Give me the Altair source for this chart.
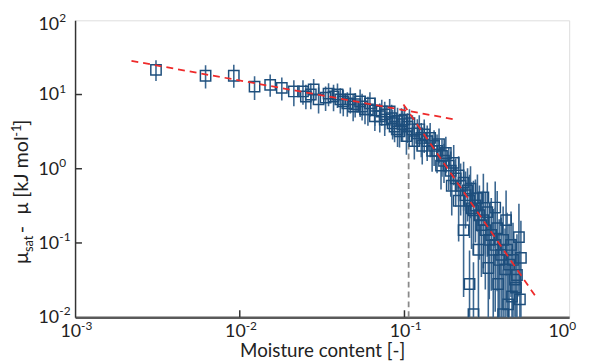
import altair as alt
import pandas as pd
import numpy as np

# measured points: moisture content, mu_sat - mu, lower/upper error (decades)
x_vals = [
    0.0031, 0.0062, 0.0092, 0.0123, 0.0153, 0.018, 0.0213,
    0.0242, 0.0252, 0.0270, 0.0281, 0.0301, 0.0332, 0.0346, 0.0371, 0.0392, 0.0408,
    0.0425, 0.0450, 0.0469, 0.0488, 0.0502, 0.0538, 0.0553, 0.0576, 0.0600, 0.0617,
    0.0661, 0.0661, 0.0708, 0.0728, 0.0759, 0.0759, 0.0813, 0.0836, 0.0847, 0.0871,
    0.0908, 0.0908, 0.0933, 0.0960, 0.0973, 0.1000, 0.1028, 0.1043, 0.1072, 0.1117,
    0.1148, 0.1197, 0.1230, 0.1265, 0.1282,
    0.1318, 0.1374, 0.1432, 0.1472, 0.1513, 0.1577, 0.1621, 0.1667, 0.1690, 0.1738,
    0.1783, 0.1858, 0.1910, 0.1937, 0.1991, 0.2047, 0.2133, 0.2133, 0.2193, 0.2286,
    0.2286, 0.2350, 0.2416, 0.2484, 0.2484, 0.2518, 0.2553, 0.2624, 0.2624, 0.2698,
    0.2773, 0.2812, 0.2851, 0.2931, 0.3013, 0.3013, 0.3097, 0.3184, 0.3228, 0.3273,
    0.3365, 0.3459, 0.3556, 0.3556, 0.3656, 0.3707, 0.3758, 0.3864, 0.3972, 0.3972,
    0.4083, 0.4140, 0.4198, 0.4256, 0.4315, 0.4436, 0.4498, 0.4560, 0.4688, 0.4753,
    0.4819, 0.4954, 0.5023, 0.5093,
]
y_vals = [
    21.5, 17.9, 17.9, 12.8, 13.5, 12.3, 11.0,
    11.0, 9.4, 10.0, 11.7, 8.6, 9.1, 10.3, 9.4, 10.0, 8.6,
    8.1, 7.6, 8.6, 6.9, 7.4, 8.1, 6.9, 6.3, 6.3, 7.6,
    6.1, 5.1, 5.1, 5.9, 5.4, 4.6, 5.9, 4.8, 4.1, 3.7,
    4.4, 3.4, 3.2, 4.4, 4.0, 4.6, 2.75, 3.7, 4.1, 3.4,
    2.36, 3.0, 3.4, 2.6, 2.03,
    2.9, 2.36, 2.6, 1.74, 2.03, 1.74, 2.15, 1.10, 1.49, 1.28,
    1.63, 1.10, 0.94, 0.59, 1.20, 0.74, 0.81, 0.37, 0.59, 0.65,
    0.149, 0.44, 0.51, 0.37, 0.028, 0.54, 0.293, 0.275, 0.011, 0.32,
    0.40, 0.081, 0.236, 0.174, 0.203, 0.41, 0.149, 0.26, 0.046, 0.110,
    0.128, 0.081, 0.094, 0.30, 0.158, 0.028, 0.059, 0.069, 0.110, 0.011,
    0.044, 0.203, 0.081, 0.0149, 0.051, 0.094, 0.019, 0.059, 0.032, 0.025,
    0.037, 0.120, 0.0174, 0.063,
]
err_lo = [
    0.15, 0.17, 0.16, 0.18, 0.16, 0.17, 0.20,
    0.18, 0.17, 0.20, 0.16, 0.19, 0.18, 0.17, 0.20, 0.18, 0.19,
    0.20, 0.18, 0.19, 0.20, 0.18, 0.21, 0.19, 0.20, 0.22, 0.18,
    0.21, 0.20, 0.22, 0.19, 0.21, 0.22, 0.20, 0.23, 0.22, 0.21,
    0.22, 0.24, 0.22, 0.21, 0.23, 0.22, 0.25, 0.22, 0.23, 0.24,
    0.25, 0.23, 0.24, 0.26, 0.25,
    0.25, 0.27, 0.26, 0.28, 0.27, 0.30, 0.26, 0.32, 0.28, 0.30,
    0.27, 0.33, 0.35, 0.40, 0.30, 0.38, 0.35, 0.55, 0.40, 0.38,
    0.90, 0.45, 0.42, 0.50, 0.45, 0.40, 0.55, 0.60, 0.05, 0.50,
    0.45, 0.90, 0.60, 0.70, 0.65, 0.45, 0.80, 0.60, 1.00, 0.80,
    0.75, 0.95, 0.90, 0.55, 0.85, 0.50, 1.00, 0.90, 0.80, 0.05,
    0.70, 0.75, 0.90, 0.20, 0.80, 0.70, 0.30, 0.80, 0.50, 0.40,
    0.60, 0.80, 0.30, 0.80,
]
err_hi = [
    0.13, 0.14, 0.15, 0.14, 0.14, 0.14, 0.15,
    0.15, 0.16, 0.15, 0.14, 0.16, 0.15, 0.14, 0.16, 0.15, 0.15,
    0.16, 0.15, 0.16, 0.17, 0.15, 0.16, 0.17, 0.16, 0.17, 0.15,
    0.17, 0.18, 0.17, 0.16, 0.17, 0.18, 0.17, 0.18, 0.18, 0.17,
    0.18, 0.19, 0.18, 0.17, 0.18, 0.18, 0.20, 0.18, 0.19, 0.19,
    0.20, 0.19, 0.19, 0.20, 0.20,
    0.20, 0.21, 0.20, 0.22, 0.21, 0.22, 0.21, 0.25, 0.22, 0.23,
    0.22, 0.25, 0.26, 0.28, 0.24, 0.27, 0.26, 0.35, 0.30, 0.28,
    0.45, 0.32, 0.30, 0.35, 0.45, 0.30, 0.35, 0.40, 0.70, 0.35,
    0.32, 0.50, 0.40, 0.45, 0.40, 0.32, 0.50, 0.40, 0.60, 0.50,
    0.50, 0.55, 0.50, 0.35, 0.50, 0.55, 0.55, 0.50, 0.45, 0.60,
    0.55, 0.40, 0.50, 0.70, 0.55, 0.45, 0.65, 0.50, 0.55, 0.60,
    0.55, 0.45, 0.65, 0.50,
]

# fitted power-law lines (endpoints)
fit_seg = ["low", "low", "high", "high"]
fit_x = [0.0022, 0.20, 0.0986, 0.643]
fit_y = [28.4, 4.64, 7.36, 0.0174]

# critical moisture content marker
crit_x = [0.106]
crit_y0 = [0.01]
crit_y1 = [3.4]

# axis ticks / labels
x_tick_vals = [0.001, 0.01, 0.1]
x_tick_exp = ["-3", "-2", "-1"]
x_last_val = [1.0]
x_last_exp = ["0"]
y_tick_vals = [0.01, 0.1, 1, 10]
y_tick_exp = ["-2", "-1", "0", "1"]
y_top_val = [100]
y_top_exp = ["2"]
x_inner_ticks = [0.01, 0.1]
y_inner_ticks = [0.1, 1, 10]

x_title = "Moisture content [-]"

y_arr = np.array(y_vals)
df = pd.DataFrame({
    "x": x_vals,
    "y": y_vals,
    "lo": y_arr * 10 ** (-np.array(err_lo)),
    "hi": y_arr * 10 ** (np.array(err_hi)),
})
fit_df = pd.DataFrame({"seg": fit_seg, "x": fit_x, "y": fit_y})
crit_df = pd.DataFrame({"x": crit_x, "y0": crit_y0, "y1": crit_y1})
xl_df = pd.DataFrame({"t": x_tick_vals, "e": x_tick_exp})
xl_last = pd.DataFrame({"t": x_last_val, "e": x_last_exp})
yl_df = pd.DataFrame({"t": y_tick_vals, "e": y_tick_exp})
yl_top = pd.DataFrame({"t": y_top_val, "e": y_top_exp})
one = pd.DataFrame({"k": [0]})

FONT = "Lato"
TXT = "#222222"
W, H = 501, 301
xscale = alt.Scale(type="log", domain=[0.001, 1], nice=False)
yscale = alt.Scale(type="log", domain=[0.01, 100], nice=False)

xaxis = alt.Axis(labels=False, ticks=False, grid=False, domainColor="#5a5a5a",
                 domainWidth=2.5, titleFontSize=19, titleFont=FONT,
                 titleFontWeight="normal", titleColor=TXT, titlePadding=25)
yaxis = alt.Axis(labels=False, ticks=False, grid=False, domainColor="#333",
                 domainWidth=1.5, title=None)

base = alt.Chart(df)
err = base.mark_rule(color="#3a6690", strokeWidth=1.6, clip=True).encode(
    x=alt.X("x:Q", scale=xscale, axis=xaxis, title=x_title),
    y=alt.Y("lo:Q", scale=yscale, axis=yaxis),
    y2="hi:Q",
)
pts = base.mark_point(shape="square", filled=False, size=110, strokeWidth=1.5,
                      color="#1d4e7c", opacity=1, clip=True).encode(
    x=alt.X("x:Q", scale=xscale),
    y=alt.Y("y:Q", scale=yscale),
)
fits = alt.Chart(fit_df).mark_line(color="#ee2a2a", strokeWidth=1.8,
                                   strokeDash=[7, 5]).encode(
    x=alt.X("x:Q", scale=xscale),
    y=alt.Y("y:Q", scale=yscale),
    detail="seg:N",
)
crit = alt.Chart(crit_df).mark_rule(color="#8a8a8a", strokeWidth=1.8,
                                    strokeDash=[6, 4]).encode(
    x=alt.X("x:Q", scale=xscale),
    y=alt.Y("y0:Q", scale=yscale),
    y2="y1:Q",
)
xt = alt.Chart(pd.DataFrame({"t": x_inner_ticks})).mark_rule(color="#333", strokeWidth=1.5).encode(
    x=alt.X("t:Q", scale=xscale), y=alt.value(H), y2=alt.value(H - 7))
yt = alt.Chart(pd.DataFrame({"t": y_inner_ticks})).mark_rule(color="#333", strokeWidth=1.5).encode(
    y=alt.Y("t:Q", scale=yscale), x=alt.value(0), x2=alt.value(7))


def xlab(data, dx):
    b = alt.Chart(data).mark_text(align="right", baseline="top", fontSize=18,
                                  font=FONT, color=TXT, dx=dx).encode(
        x=alt.X("t:Q", scale=xscale), y=alt.value(H + 6), text=alt.value("10"))
    e = alt.Chart(data).mark_text(align="left", baseline="top", fontSize=12,
                                  font=FONT, color=TXT, dx=dx).encode(
        x=alt.X("t:Q", scale=xscale), y=alt.value(H + 4), text="e:N")
    return [b, e]


def ylab(data, dy):
    b = alt.Chart(data).mark_text(align="left", baseline="middle", fontSize=18,
                                  font=FONT, color=TXT, dy=dy).encode(
        y=alt.Y("t:Q", scale=yscale), x=alt.value(-37), text=alt.value("10"))
    e = alt.Chart(data).mark_text(align="left", baseline="middle", fontSize=12,
                                  font=FONT, color=TXT, dy=dy - 7).encode(
        y=alt.Y("t:Q", scale=yscale), x=alt.value(-16), text="e:N")
    return [b, e]


# y title pieces: mu_sat - mu [kJ mol^-1]
def tpiece(txt, xpix, ypix, size):
    return alt.Chart(one).mark_text(align="left", baseline="alphabetic", angle=270,
                                    fontSize=size, font=FONT, color=TXT).encode(
        x=alt.value(xpix), y=alt.value(ypix), text=alt.value(txt))


yb = -48
ytitle = [
    tpiece("μ", yb, 247, 20),
    tpiece("sat", yb + 5, 235, 13),
    tpiece("-", yb, 216, 20),
    tpiece("μ", yb, 197, 20),
    tpiece("[kJ mol", yb, 180, 20),
    tpiece("-1", yb - 7, 118, 13),
    tpiece("]", yb, 107, 20),
]

chart = alt.layer(crit, err, pts, fits, xt, yt,
                  *xlab(xl_df, 6), *xlab(xl_last, 0),
                  *ylab(yl_df, 1), *ylab(yl_top, 5),
                  *ytitle).properties(
    width=W, height=H,
    autosize=alt.AutoSizeParams(type="none"),
    padding={"left": 68, "top": 10, "right": 12, "bottom": 45},
).configure_view(stroke="#444", strokeWidth=1.5).configure(background="white")

chart.save("out.html", embed_options={"renderer": "svg", "actions": False})
